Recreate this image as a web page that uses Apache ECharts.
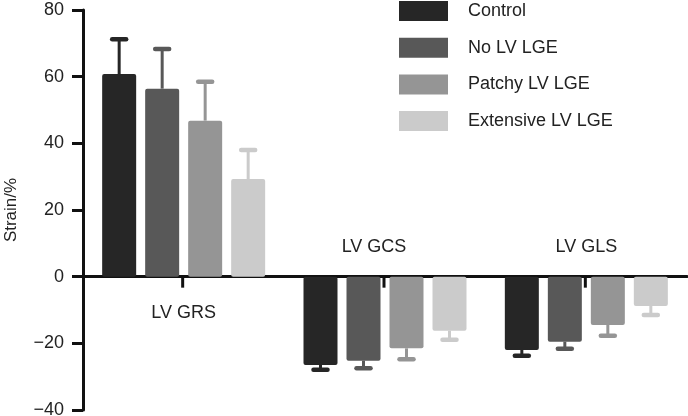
<!DOCTYPE html>
<html>
<head>
<meta charset="utf-8">
<style>
  html, body { margin: 0; padding: 0; background: #fff; }
  #chart { width: 688px; height: 416px; }
</style>
<script src="https://cdn.jsdelivr.net/npm/echarts@6/dist/echarts.min.js"></script>
</head>
<body>
<div id="chart"></div>
<script>
// 数据
var categories = ['LV GRS', 'LV GCS', 'LV GLS'];
var groupNames = ['Control', 'No LV LGE', 'Patchy LV LGE', 'Extensive LV LGE'];
var colors = ['#262626', '#585858', '#959595', '#cbcbcb'];

var controlMean = [60.8, -26.5, -22.0];
var noLgeMean = [56.4, -25.2, -19.5];
var patchyMean = [46.8, -21.5, -14.5];
var extensiveMean = [29.3, -16.2, -8.8];

var controlErr = [10.4, 1.4, 1.7];
var noLgeErr = [11.9, 2.3, 2.1];
var patchyErr = [11.7, 3.3, 3.2];
var extensiveErr = [8.7, 2.7, 2.7];

var yTicks = [-40, -20, 0, 20, 40, 60, 80];

var means = [controlMean, noLgeMean, patchyMean, extensiveMean];
var errs = [controlErr, noLgeErr, patchyErr, extensiveErr];

var font = '"Liberation Sans", Arial, Helvetica, sans-serif';
var barW = 34, gapPx = 9;
var gridTop = 10, gridBottom = 6;

var myChart = echarts.init(document.getElementById('chart'));

var series = [];
groupNames.forEach(function (name, i) {
    series.push({
        name: name,
        type: 'bar',
        barWidth: barW,
        barGap: (gapPx / barW * 100) + '%',
        data: means[i],
        itemStyle: { color: colors[i], borderRadius: 2 },
        z: 3
    });
});
// 误差线
groupNames.forEach(function (name, i) {
    series.push({
        name: name,
        type: 'custom',
        z: 2,
        data: means[i].map(function (m, k) { return [k, m, errs[i][k]]; }),
        encode: { x: 0, y: 1 },
        renderItem: function (params, api) {
            var k = api.value(0), m = api.value(1), e = api.value(2);
            var sign = m >= 0 ? 1 : -1;
            var base = api.coord([k, m]);
            var end = api.coord([k, m + sign * e]);
            var off = (i - 1.5) * (barW + gapPx);
            var cx = base[0] + off;
            return {
                type: 'group',
                children: [
                    { type: 'line', shape: { x1: cx, y1: base[1], x2: cx, y2: end[1] },
                      style: { stroke: colors[i], lineWidth: 3 } },
                    { type: 'line', shape: { x1: cx - 7, y1: end[1], x2: cx + 7, y2: end[1] },
                      style: { stroke: colors[i], lineWidth: 4.5, lineCap: 'round' } }
                ]
            };
        }
    });
});
// x 轴刻度（类目中心，零线下方）
series.push({
    name: 'xTicks',
    type: 'custom',
    z: 4,
    silent: true,
    data: categories.map(function (c, k) { return [k, 0]; }),
    encode: { x: 0, y: 1 },
    renderItem: function (params, api) {
        var p = api.coord([api.value(0), 0]);
        return { type: 'line', shape: { x1: p[0] - 1, y1: p[1], x2: p[0] - 1, y2: p[1] + 11 },
                 style: { stroke: '#111', lineWidth: 3 } };
    }
});

// 零线在绘图区中的位置（两条类目轴都放到零线上）
var plotH = 416 - gridTop - gridBottom;
var yMax = yTicks[yTicks.length - 1], yMin = yTicks[0];
var zeroFromTop = plotH * yMax / (yMax - yMin);
var zeroFromBottom = plotH - zeroFromTop;

var option = {
    animation: false,
    textStyle: { fontFamily: font },
    grid: { left: 83, right: 1, top: gridTop, bottom: gridBottom, containLabel: false, outerBoundsMode: 'none' },
    legend: {
        orient: 'vertical',
        left: 399,
        top: 1,
        padding: 0,
        itemWidth: 49,
        itemHeight: 20,
        itemGap: 16.7,
        icon: 'rect',
        data: groupNames,
        textStyle: { fontSize: 18, color: '#222', fontFamily: font, padding: [0, 0, 0, 15] }
    },
    xAxis: [{
        type: 'category',
        data: categories,
        position: 'bottom',
        offset: -zeroFromBottom,
        axisLine: { show: true, onZero: false, lineStyle: { color: '#111', width: 3 } },
        axisTick: { show: false },
        axisLabel: {
            margin: 27, fontSize: 18, color: '#222', fontFamily: font, interval: 0,
            formatter: function (v) { return v === categories[0] ? v : ''; }
        }
    }, {
        type: 'category',
        data: categories,
        position: 'top',
        offset: -zeroFromTop,
        axisLine: { show: false, onZero: false },
        axisTick: { show: false },
        axisLabel: {
            margin: 21, fontSize: 18, color: '#222', fontFamily: font, interval: 0,
            formatter: function (v) {
                if (v === categories[0]) return '';
                return v === categories[1] ? '{l|' + v + '}' : v;
            },
            rich: { l: { fontSize: 18, color: '#222', fontFamily: font, padding: [0, 22, 0, 0] } }
        }
    }],
    yAxis: {
        type: 'value',
        min: yMin,
        max: yMax,
        interval: 20,
        name: 'Strain/%',
        nameLocation: 'middle',
        nameGap: 63,
        nameTextStyle: { fontSize: 17, color: '#222', fontFamily: font },
        axisLine: { show: true, lineStyle: { color: '#111', width: 3 } },
        axisTick: { show: true, length: 11, lineStyle: { color: '#111', width: 3 } },
        splitLine: { show: false },
        axisLabel: {
            margin: 19, fontSize: 18, color: '#222', fontFamily: font,
            formatter: function (v) { return String(v).replace('-', '\u2212'); }
        }
    },
    series: series
};

myChart.setOption(option);
</script>
</body>
</html>
